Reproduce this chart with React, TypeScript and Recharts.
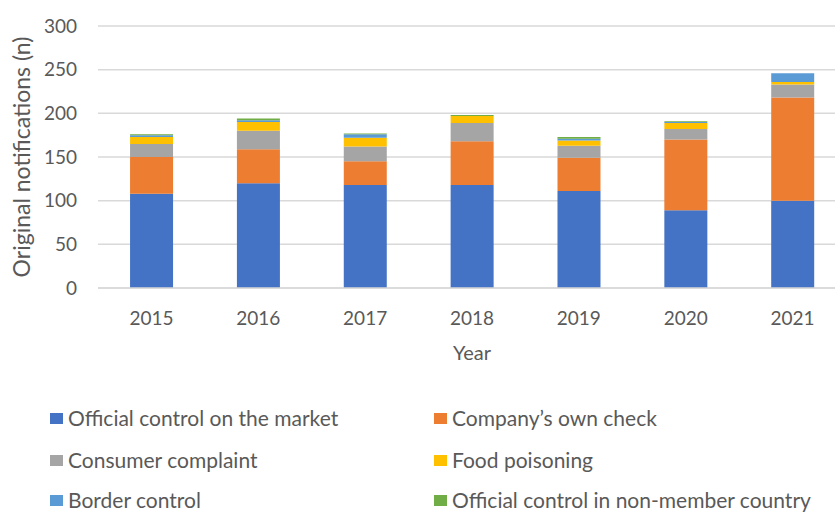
import React from 'react';
import { BarChart, Bar, XAxis, YAxis, CartesianGrid, Legend } from 'recharts';

const years = ['2015', '2016', '2017', '2018', '2019', '2020', '2021'];
const officialMarket = [108, 120, 118, 118, 111, 89, 100];
const companyCheck = [42, 39, 27, 50, 38, 81, 118];
const consumerComplaint = [15, 21, 17, 21, 14, 12, 15];
const foodPoisoning = [8, 10, 10, 8, 6, 7, 3];
const borderControl = [2, 2, 4, 0, 2, 1, 10];
const nonMember = [1, 2, 1, 1, 2, 1, 0];
const yTicks = [0, 50, 100, 150, 200, 250, 300];

const series = [
  { key: 'official', name: 'Official control on the market', color: '#4472C4', values: officialMarket },
  { key: 'company', name: 'Company\u2019s own check', color: '#ED7D31', values: companyCheck },
  { key: 'consumer', name: 'Consumer complaint', color: '#A5A5A5', values: consumerComplaint },
  { key: 'food', name: 'Food poisoning', color: '#FFC000', values: foodPoisoning },
  { key: 'border', name: 'Border control', color: '#5B9BD5', values: borderControl },
  { key: 'nonmember', name: 'Official control in non-member country', color: '#70AD47', values: nonMember },
];

const data = years.map((y, i) => {
  const row: Record<string, any> = { year: y };
  series.forEach((s) => { row[s.key] = s.values[i]; });
  return row;
});

const FONT = 'Lato, "Open Sans", sans-serif';
const TXT = '#595959';

const rowBaselines = [426, 468, 508];

const LegendContent = () => (
  <div style={{ position: 'relative', width: 835, height: 114, fontFamily: FONT, fontSize: 21, color: TXT }}>
    {series.map((s, i) => {
      const col = i % 2;
      const row = Math.floor(i / 2);
      const base = rowBaselines[row] - 400;
      return (
        <div key={s.key} style={{ position: 'absolute', left: col === 0 ? 50 : 434, top: base - 20.7, height: 25, lineHeight: '25px', whiteSpace: 'nowrap' }}>
          <span style={{ position: 'absolute', left: 0, top: 20.7 - 12.5, width: 13, height: 11, background: s.color }} />
          <span style={{ position: 'absolute', left: 18, top: 0 }}>{s.name}</span>
        </div>
      );
    })}
  </div>
);

export default function App() {
  return (
    <div style={{ position: 'absolute', left: 0, top: 0, width: 835, height: 514, overflow: 'hidden', background: '#fff' }}>
      <BarChart width={850} height={514} data={data} margin={{ top: 26, right: 4, left: 0, bottom: 0 }} barCategoryGap="30%">
        <CartesianGrid vertical={false} stroke="#d9d9d9" strokeWidth={1.5} />
        <XAxis
          dataKey="year"
          axisLine={{ stroke: '#d9d9d9', strokeWidth: 1.5 }}
          tickLine={false}
          tickSize={0}
          tickMargin={24}
          height={80}
          tick={{ fill: TXT, fontSize: 19, fontFamily: FONT }}
          label={{ value: 'Year', position: 'insideBottom', offset: 8, fill: TXT, fontSize: 20, fontFamily: FONT }}
        />
        <YAxis
          domain={[0, 300]}
          ticks={yTicks}
          width={98}
          axisLine={false}
          tickLine={false}
          tickSize={0}
          tickMargin={21}
          tick={{ fill: TXT, fontSize: 19, fontFamily: FONT }}
          label={{ value: 'Original notifications (n)', angle: -90, position: 'center', dx: -27, fill: TXT, fontSize: 23, fontFamily: FONT }}
        />
        <Legend verticalAlign="bottom" content={<LegendContent />} wrapperStyle={{ position: 'absolute', left: 0, top: 400, height: 146 }} />
        {series.map((s) => (
          <Bar key={s.key} dataKey={s.key} name={s.name} stackId="a" fill={s.color} isAnimationActive={false} />
        ))}
      </BarChart>
    </div>
  );
}
